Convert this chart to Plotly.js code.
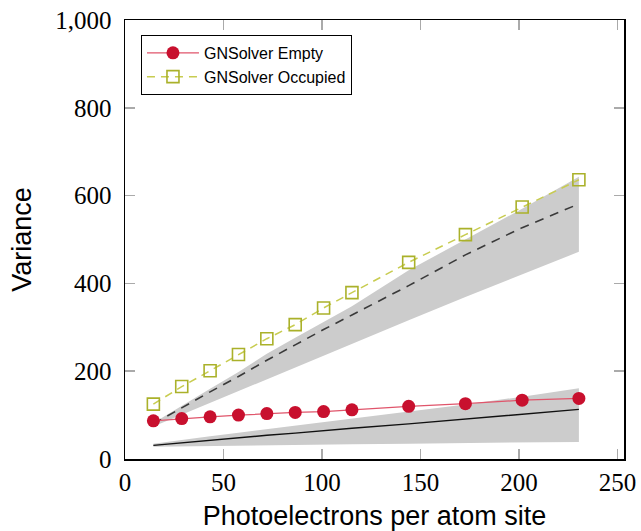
<!DOCTYPE html>
<html>
<head>
<meta charset="utf-8">
<script src="https://cdn.plot.ly/plotly-3.0.1.min.js"></script>
<style>html,body{margin:0;padding:0;background:#fff;}#chart{width:641px;height:531px;}</style>
</head>
<body>
<div id="chart"></div>
<script>
// Photoelectrons per atom site
const xVals = [14.4, 28.8, 43.2, 57.6, 72, 86.4, 100.8, 115.2, 144, 172.8, 201.6, 230.4];
// measured variances
const emptyVar = [87, 92, 96, 100, 103.5, 106, 108, 112, 120, 126, 134, 138];
const occupiedVar = [125, 165, 201, 238, 274, 306, 344, 379, 448, 511, 574, 636];
// theory (occupied) line and band
const occTheory = [80, 117, 153, 188, 225, 260, 295, 328, 395, 465, 527, 581];
const occBandLow = [74, 101, 128, 155, 182, 209, 236, 262, 316, 369, 421, 472];
const occBandHigh = [82, 122, 160, 198, 240, 276, 312, 348, 430, 500, 570, 643];
// theory (empty) line and band
const emptyTheory = [31, 37, 43, 48, 54, 59, 65, 70, 80, 91, 102, 113];
const emptyBandLow = [28, 29, 30, 31, 31.5, 32, 33, 33.5, 35, 36, 37.5, 39];
const emptyBandHigh = [35, 44, 52, 60, 68, 76, 84, 92, 108, 124, 142, 161];

const xTicks = [0, 50, 100, 150, 200, 250];
const yTicks = [0, 200, 400, 600, 800, 1000];

const band = '#cccccc';
const traces = [
  {x: xVals, y: occBandLow, mode: 'lines', line: {width: 0}, showlegend: false, hoverinfo: 'skip'},
  {x: xVals, y: occBandHigh, mode: 'lines', line: {width: 0}, fill: 'tonexty', fillcolor: band, showlegend: false, hoverinfo: 'skip'},
  {x: xVals, y: emptyBandLow, mode: 'lines', line: {width: 0}, showlegend: false, hoverinfo: 'skip'},
  {x: xVals, y: emptyBandHigh, mode: 'lines', line: {width: 0}, fill: 'tonexty', fillcolor: band, showlegend: false, hoverinfo: 'skip'},
  {x: xVals, y: occTheory, mode: 'lines', line: {color: '#3a3a3a', width: 1.6, dash: '9px,7px'}, showlegend: false},
  {x: xVals, y: emptyTheory, mode: 'lines', line: {color: '#111111', width: 1.4}, showlegend: false},
  {x: xVals, y: emptyVar, mode: 'lines+markers', name: 'GNSolver Empty', legendgroup: 'a',
   line: {color: '#e0556b', width: 1.3}, marker: {symbol: 'circle', size: 13, color: '#c8102e'}},
  {x: xVals, y: occupiedVar, mode: 'lines+markers', name: 'GNSolver Occupied', legendgroup: 'b',
   line: {color: '#c8cc50', width: 1.5, dash: '8px,6px'},
   marker: {symbol: 'square-open', size: 12, color: '#aab12a', line: {width: 1.6, color: '#aab12a'}}}
];

const tickFont = {family: '"Liberation Serif", serif', size: 25, color: '#000'};
const layout = {
  width: 641, height: 531,
  margin: {l: 125, r: 17, t: 20, b: 72},
  paper_bgcolor: '#fff', plot_bgcolor: '#fff',
  separators: '.,',
  showlegend: true,
  legend: {
    x: 0.032, y: 0.966, xanchor: 'left', yanchor: 'top',
    traceorder: 'normal',
    bordercolor: '#000', borderwidth: 1, bgcolor: '#fff',
    font: {family: 'Liberation Sans, Arial, sans-serif', size: 16, color: '#000'},
    itemwidth: 52, tracegroupgap: 11
  },
  xaxis: {
    range: [0, 253.3], tickvals: xTicks, ticktext: xTicks.map(String),
    ticks: 'inside', ticklen: 10, tickwidth: 1.5, tickcolor: '#aaaaaa',
    showline: true, linecolor: '#000', linewidth: 1.5, mirror: 'allticks',
    showgrid: false, zeroline: false, tickfont: tickFont, ticklabelstandoff: 0,
    title: {text: 'Photoelectrons per atom site', standoff: 16,
            font: {family: 'Liberation Sans, Arial, sans-serif', size: 27, color: '#000'}}
  },
  yaxis: {
    range: [0, 1000], tickvals: yTicks, tickformat: ',d',
    ticks: 'inside', ticklen: 10, tickwidth: 1.5, tickcolor: '#aaaaaa',
    showline: true, linecolor: '#000', linewidth: 1.5, mirror: 'allticks',
    showgrid: false, zeroline: false, tickfont: tickFont, ticklabelstandoff: 7,
    title: {text: 'Variance', standoff: 16,
            font: {family: 'Liberation Sans, Arial, sans-serif', size: 27, color: '#000'}}
  }
};
Plotly.newPlot('chart', traces, layout, {displayModeBar: false, staticPlot: true});
</script>
</body>
</html>
